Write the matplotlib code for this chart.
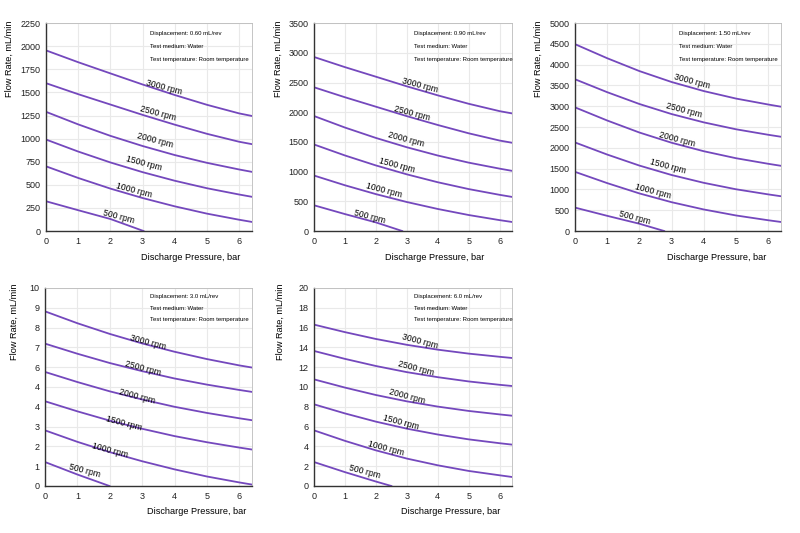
import matplotlib
matplotlib.use('Agg')
import matplotlib.pyplot as plt

plt.rcParams['font.family'] = ['Liberation Sans', 'DejaVu Sans']

speeds = ['3000 rpm', '2500 rpm', '2000 rpm', '1500 rpm', '1000 rpm', '500 rpm']
pressure = [0, 1, 2, 3, 4, 5, 6, 6.4]

# 0.60 mL/rev
flow_060 = [
    [1955, 1827, 1706, 1586, 1472, 1366, 1273, 1245],
    [1600, 1481, 1369, 1257, 1151, 1052, 966, 940],
    [1290, 1154, 1030, 920, 822, 738, 666, 640],
    [990, 860, 742, 637, 544, 463, 395, 370],
    [700, 574, 459, 357, 267, 188, 122, 98],
]
p500_060 = [0, 1, 2, 3.03]
f500_060 = [322, 225, 130, 0]

# 0.90 mL/rev
flow_090 = [
    [2930, 2759, 2598, 2436, 2284, 2142, 2018, 1980],
    [2420, 2252, 2093, 1934, 1785, 1645, 1523, 1486],
    [1936, 1742, 1567, 1410, 1271, 1151, 1050, 1013],
    [1457, 1272, 1104, 954, 821, 706, 609, 574],
    [934, 770, 621, 488, 371, 269, 183, 152],
]
p500_090 = [0, 1, 2, 2.85]
f500_090 = [433, 285, 145, 0]

# 1.50 mL/rev
flow_150 = [
    [4494, 4156, 3847, 3584, 3366, 3186, 3043, 2990],
    [3650, 3339, 3055, 2813, 2613, 2447, 2315, 2267],
    [2974, 2658, 2369, 2123, 1919, 1751, 1617, 1568],
    [2130, 1839, 1574, 1347, 1159, 1004, 881, 836],
    [1423, 1152, 904, 693, 518, 374, 259, 217],
]
p500_150 = [0, 1, 2, 2.77]
f500_150 = [563, 365, 175, 0]

# 3.0 mL/rev
flow_300 = [
    [8.82, 8.22, 7.68, 7.20, 6.78, 6.41, 6.09, 5.98],
    [7.19, 6.68, 6.21, 5.80, 5.43, 5.12, 4.85, 4.75],
    [5.76, 5.25, 4.78, 4.37, 4.00, 3.69, 3.42, 3.32],
    [4.28, 3.77, 3.30, 2.89, 2.52, 2.21, 1.94, 1.84],
    [2.81, 2.23, 1.71, 1.25, 0.84, 0.48, 0.18, 0.07],
]
p500_300 = [0, 1, 1.99]
f500_300 = [1.21, 0.58, 0]

# 6.0 mL/rev
flow_600 = [
    [16.30, 15.54, 14.85, 14.26, 13.77, 13.37, 13.05, 12.93],
    [13.64, 12.84, 12.12, 11.50, 10.99, 10.56, 10.22, 10.10],
    [10.77, 9.94, 9.19, 8.55, 8.02, 7.58, 7.23, 7.10],
    [8.25, 7.33, 6.50, 5.79, 5.20, 4.71, 4.32, 4.18],
    [5.62, 4.56, 3.60, 2.77, 2.09, 1.52, 1.08, 0.91],
]
p500_600 = [0, 1, 2, 2.5]
f500_600 = [2.42, 1.40, 0.45, 0]

yticks_060 = [0, 250, 500, 750, 1000, 1250, 1500, 1750, 2000, 2250]
yticks_090 = [0, 500, 1000, 1500, 2000, 2500, 3000, 3500]
yticks_150 = [0, 500, 1000, 1500, 2000, 2500, 3000, 3500, 4000, 4500, 5000]
yticks_300 = [0, 1, 2, 3, 4, 5, 6, 7, 8, 9, 10]
ylabels_300 = ['0', '1', '2', '3', '4', '4', '6', '7', '8', '9', '10']
yticks_600 = [0, 2, 4, 6, 8, 10, 12, 14, 16, 18, 20]

displacements = ['0.60 mL/rev', '0.90 mL/rev', '1.50 mL/rev', '3.0 mL/rev', '6.0 mL/rev']

# label anchor points along each curve (x in bar, y in flow units)
lab_060 = [(3.66, 1555), (3.47, 1273), (3.40, 984), (3.04, 730), (2.72, 441), (2.27, 159)]
lab_090 = [(3.42, 2459), (3.17, 1981), (2.98, 1542), (2.68, 1108), (2.25, 675), (1.79, 236)]
lab_150 = [(3.62, 3594), (3.39, 2910), (3.18, 2203), (2.90, 1543), (2.43, 941), (1.85, 322)]
lab_300 = [(3.19, 7.27), (3.02, 5.93), (2.83, 4.50), (2.45, 3.15), (2.02, 1.80), (1.23, 0.76)]
lab_600 = [(3.41, 14.61), (3.28, 11.85), (3.01, 9.06), (2.81, 6.40), (2.32, 3.77), (1.65, 1.41)]

panels = [
    ([0.0575, 0.5666, 0.2575, 0.390], flow_060, p500_060, f500_060, yticks_060, None, lab_060, -0.155, 0.70),
    ([0.3925, 0.5666, 0.2475, 0.390], flow_090, p500_090, f500_090, yticks_090, None, lab_090, -0.157, 0.61),
    ([0.71875, 0.5666, 0.2575, 0.390], flow_150, p500_150, f500_150, yticks_150, None, lab_150, -0.155, 0.69),
    ([0.05625, 0.0882, 0.259, 0.3715], flow_300, p500_300, f500_300, yticks_300, ylabels_300, lab_300, -0.126, 0.73),
    ([0.3925, 0.0882, 0.2475, 0.3715], flow_600, p500_600, f500_600, yticks_600, None, lab_600, -0.146, 0.69),
]

line_color = '#7448bd'

fig = plt.figure(figsize=(8, 5.33), dpi=100)

for i, (rect, flows, p5, f5, yt, ylab, labs, ylx, xlx) in enumerate(panels):
    ax = fig.add_axes(rect)
    for f in flows:
        ax.plot(pressure, f, color=line_color, lw=1.3)
    ax.plot(p5, f5, color=line_color, lw=1.3)
    for name, (lx, ly) in zip(speeds, labs):
        ax.text(lx, ly, name, fontsize=6.2, rotation=-15, ha='center', va='center',
                rotation_mode='anchor')

    ax.set_xlim(0, 6.4)
    ax.set_ylim(yt[0], yt[-1])
    ax.set_xticks(range(7))
    ax.set_yticks(yt)
    if ylab is not None:
        ax.set_yticklabels(ylab)
    ax.tick_params(length=0, labelsize=6.5, pad=4, colors='#222222')
    ax.grid(True, color='#e9e9e9', lw=0.8)
    ax.set_axisbelow(True)
    for s in ['top', 'right']:
        ax.spines[s].set_color('#bbbbbb')
        ax.spines[s].set_linewidth(0.6)
    for s in ['left', 'bottom']:
        ax.spines[s].set_color('#333333')
        ax.spines[s].set_linewidth(1.0)

    ax.set_xlabel('Discharge Pressure, bar', fontsize=6.6)
    ax.xaxis.set_label_coords(xlx, -0.105)
    ax.set_ylabel('Flow Rate, mL/min', fontsize=6.6)
    ax.yaxis.set_label_coords(ylx, 0.83)

    notes = ['Displacement: ' + displacements[i], 'Test medium: Water',
             'Test temperature: Room temperature']
    ys = [0.952, 0.889, 0.827] if i < 3 else [0.955, 0.897, 0.843]
    for t, y in zip(notes, ys):
        ax.text(0.505, y, t, transform=ax.transAxes, fontsize=4.3, va='center', ha='left')

fig.savefig('out.png', dpi=100, facecolor='white')
